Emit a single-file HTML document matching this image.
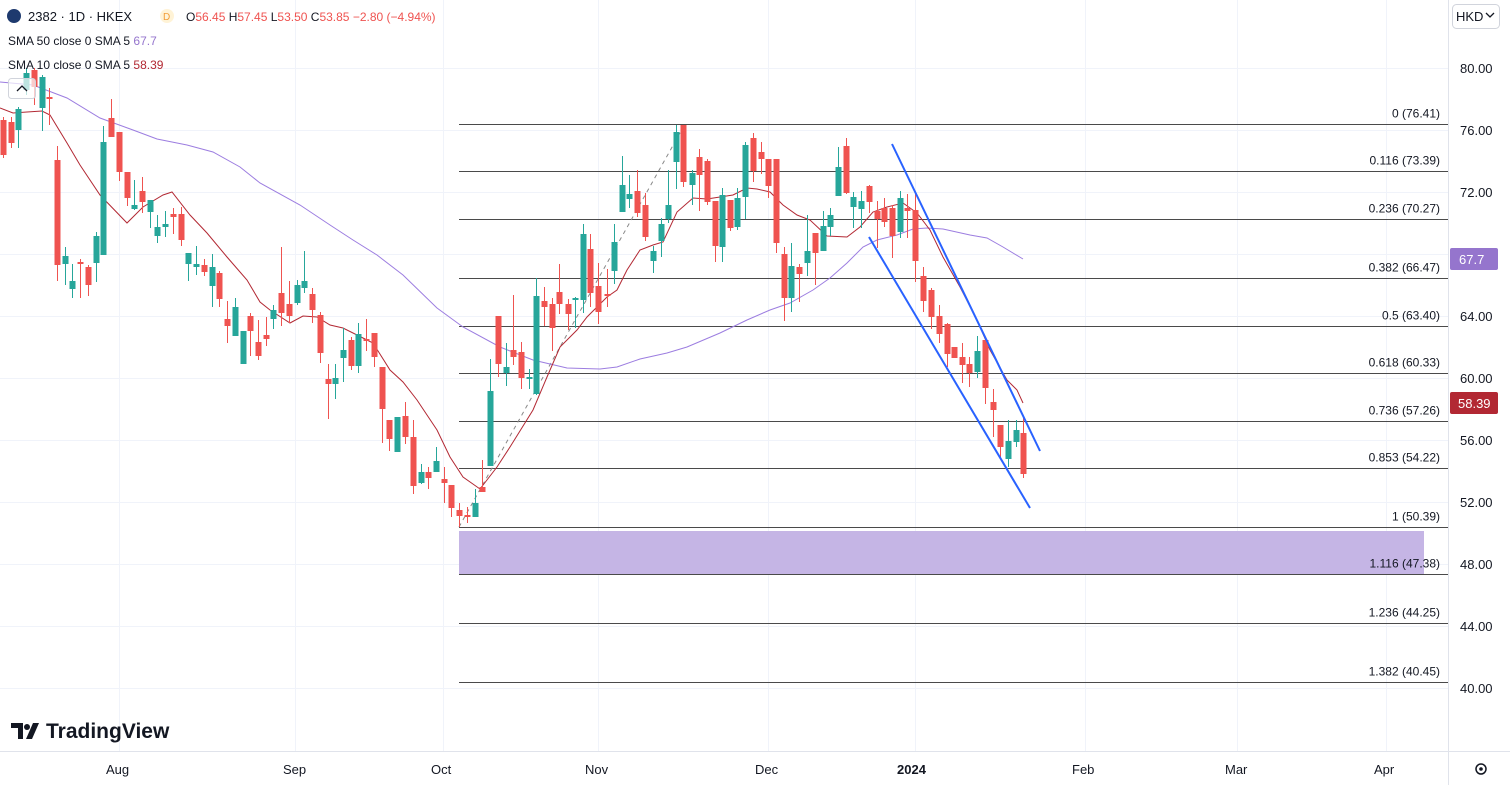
<!DOCTYPE html>
<html><head><meta charset="utf-8">
<style>
body{margin:0;background:#fff;width:1510px;height:785px;overflow:hidden;font-family:"Liberation Sans",sans-serif;}
svg{position:absolute;left:0;top:0}
</style></head><body>
<svg id="s" width="1510" height="785" xmlns="http://www.w3.org/2000/svg" font-family="Liberation Sans, sans-serif">
<g id="grid" stroke="#f0f3fa" stroke-width="1"></g>
<rect x="459" y="531" width="965" height="43" fill="#c5b5e5" />
<g id="fib" stroke="#4a4a4a" stroke-width="1"></g>
<line x1="459" y1="527" x2="685" y2="124" stroke="#888" stroke-width="1" stroke-dasharray="4,4"/>
<polyline id="sma50" fill="none" stroke="#9c7de0" stroke-width="1"/>
<polyline id="sma10" fill="none" stroke="#b22833" stroke-width="1"/>
<g id="candles"></g>
<line x1="892" y1="144" x2="1040" y2="451" stroke="#2962ff" stroke-width="2"/>
<line x1="869" y1="237" x2="1030" y2="508" stroke="#2962ff" stroke-width="2"/>
<g id="fibt" font-size="12" fill="#131722" text-anchor="end"></g>
<line x1="1448.5" y1="0" x2="1448.5" y2="785" stroke="#e0e3eb"/>
<line x1="0" y1="751.5" x2="1510" y2="751.5" stroke="#e0e3eb"/>
<g id="yax" font-size="13" fill="#131722"></g>
<rect x="1450" y="248" width="48" height="22" rx="2" fill="#9575cd"/>
<text x="1459" y="264" font-size="13" fill="#fff">67.7</text>
<rect x="1450" y="392" width="48" height="22" rx="2" fill="#b22833"/>
<text x="1458" y="408" font-size="13" fill="#fff">58.39</text>
<rect x="1452.5" y="4.5" width="47" height="24" rx="4" fill="#fff" stroke="#d1d4dc"/>
<text x="1456" y="21" font-size="13" fill="#131722">HKD</text>
<path d="M1486 13 l4 4 l4 -4" fill="none" stroke="#131722" stroke-width="1.3"/>
<g font-size="13" fill="#131722">
<text x="106" y="774">Aug</text><text x="283" y="774">Sep</text><text x="431" y="774">Oct</text>
<text x="585" y="774">Nov</text><text x="755" y="774">Dec</text><text x="897" y="774" font-weight="bold">2024</text>
<text x="1072" y="774">Feb</text><text x="1225" y="774">Mar</text><text x="1374" y="774">Apr</text>
</g>
<circle cx="1481" cy="769" r="5" fill="none" stroke="#131722" stroke-width="1.5"/><circle cx="1481" cy="769" r="1.8" fill="#131722"/>
<circle cx="14" cy="16" r="7" fill="#1e3a6e"/>
<text x="28" y="21" font-size="13" fill="#131722">2382 · 1D · HKEX</text>
<circle cx="167" cy="16" r="7" fill="#fff3d6"/><text x="163" y="20" font-size="10" fill="#f29d38">D</text>
<text x="186" y="21" font-size="12" fill="#131722">O<tspan fill="#ef5350">56.45</tspan> H<tspan fill="#ef5350">57.45</tspan> L<tspan fill="#ef5350">53.50</tspan> C<tspan fill="#ef5350">53.85 −2.80 (−4.94%)</tspan></text>
<text x="8" y="45" font-size="12" fill="#131722">SMA 50 close 0 SMA 5 <tspan fill="#9575cd">67.7</tspan></text>
<text x="8" y="69" font-size="12" fill="#131722">SMA 10 close 0 SMA 5 <tspan fill="#b22833">58.39</tspan></text>
<rect x="8.5" y="78.5" width="27" height="20" rx="3" fill="rgba(255,255,255,0.7)" stroke="#d1d4dc"/>
<path d="M17 91 l5 -5 l5 5" fill="none" stroke="#131722" stroke-width="1.3"/>
<path d="M11 723 h12 v16 h-5 v-11 h-7z M26 739 l7 -16 h6 l-7 16z" fill="#131722"/>
<circle cx="27" cy="727" r="3" fill="#131722"/>
<text x="46" y="738" font-size="21" font-weight="bold" fill="#131722">TradingView</text>
</svg>
<script>
const NS="http://www.w3.org/2000/svg";
function el(t,a,p){const e=document.createElementNS(NS,t);for(const k in a)e.setAttribute(k,a[k]);if(p)p.appendChild(e);return e;}
const grid=document.getElementById('grid');
[68,130,192,254,316,378,440,502,564,626,688].forEach(y=>el('line',{x1:0,x2:1448,y1:y+.5,y2:y+.5},grid));
[119,295,443,598,768,915,1085,1237,1386].forEach(x=>el('line',{x1:x+.5,x2:x+.5,y1:0,y2:751},grid));
const fib=[["0 (76.41)",124.5],["0.116 (73.39)",171.5],["0.236 (70.27)",219.5],["0.382 (66.47)",278.5],["0.5 (63.40)",326.5],["0.618 (60.33)",373.5],["0.736 (57.26)",421.5],["0.853 (54.22)",468.5],["1 (50.39)",527.5],["1.116 (47.38)",574.5],["1.236 (44.25)",623.5],["1.382 (40.45)",682.5]];
const fg=document.getElementById('fib'),ft=document.getElementById('fibt');
fib.forEach(f=>{el('line',{x1:459,x2:1448,y1:f[1],y2:f[1]},fg);const t=el('text',{x:1440,y:f[1]-7},ft);t.textContent=f[0];});
const ya=document.getElementById('yax');
[["80.00",68],["76.00",130],["72.00",192],["64.00",316],["60.00",378],["56.00",440],["52.00",502],["48.00",564],["44.00",626],["40.00",688]].forEach(v=>{const t=el('text',{x:1460,y:v[1]+5},ya);t.textContent=v[0];});
const C=[[3,120,155,117,158,'r'],[11,122,143,117,148,'r'],[18,109,130,107,148,'g'],[26,73,90,68,95,'g'],[34,70,87,68,105,'r'],[42,77,108,75,131,'g'],[49,97,99,88,125,'r'],[57,160,265,146,281,'r'],[65,256,264,247,285,'g'],[72,281,289,264,298,'g'],[80,262,264,259,298,'r'],[88,267,285,265,296,'r'],[96,236,263,232,282,'g'],[103,142,255,126,255,'g'],[111,118,137,99,137,'r'],[119,132,172,132,181,'r'],[127,172,198,172,206,'r'],[134,205,209,180,210,'g'],[142,191,202,177,213,'r'],[150,200,212,200,228,'g'],[157,227,236,215,243,'g'],[165,224,227,211,237,'g'],[173,214,217,208,234,'r'],[181,214,240,207,246,'r'],[188,253,264,253,281,'g'],[196,264,267,246,275,'g'],[204,265,272,259,276,'r'],[212,267,286,254,307,'g'],[219,273,299,271,307,'r'],[227,319,326,301,343,'r'],[235,307,336,298,336,'g'],[243,331,364,331,364,'g'],[250,316,331,313,356,'r'],[258,342,356,320,360,'r'],[266,335,339,317,346,'r'],[273,310,319,305,329,'g'],[281,293,313,247,326,'r'],[289,304,316,281,323,'r'],[297,285,303,280,305,'g'],[304,281,288,251,293,'g'],[312,294,310,288,323,'r'],[320,315,353,312,363,'r'],[328,379,384,364,419,'r'],[335,378,384,364,399,'g'],[343,350,358,328,382,'g'],[351,340,366,337,370,'r'],[358,334,366,323,373,'g'],[366,339,341,319,351,'r'],[374,333,357,333,367,'r'],[382,367,409,367,443,'r'],[389,420,439,420,451,'r'],[397,417,452,417,452,'g'],[405,416,437,402,444,'r'],[413,437,486,420,494,'r'],[421,472,483,464,484,'g'],[428,472,478,467,489,'r'],[436,461,472,447,472,'g'],[444,479,483,467,503,'r'],[451,485,508,485,517,'r'],[459,510,516,503,527,'r'],[467,515,517,507,523,'r'],[475,503,517,489,517,'g'],[482,487,492,460,492,'r'],[490,391,466,359,466,'g'],[498,316,364,316,377,'r'],[506,367,373,343,386,'g'],[513,350,357,295,365,'r'],[521,352,378,342,389,'r'],[529,377,379,369,389,'g'],[536,296,394,278,395,'g'],[544,301,307,287,326,'r'],[552,304,328,298,351,'r'],[559,292,304,264,314,'r'],[568,304,314,299,330,'r'],[575,298,300,297,328,'g'],[583,234,300,224,313,'g'],[590,249,293,234,307,'r'],[598,286,312,263,324,'r'],[607,294,296,269,307,'r'],[614,242,271,224,284,'g'],[622,185,212,156,212,'g'],[629,194,199,175,208,'g'],[637,191,213,170,217,'r'],[645,205,237,193,241,'r'],[653,251,261,246,273,'g'],[661,224,241,218,257,'g'],[668,205,219,170,223,'g'],[676,132,162,125,189,'g'],[683,125,182,125,187,'r'],[692,173,185,170,205,'g'],[699,157,175,149,211,'r'],[707,161,202,159,205,'r'],[715,201,246,201,262,'r'],[722,195,247,188,262,'g'],[730,200,228,200,231,'r'],[737,198,227,188,230,'g'],[745,145,197,142,219,'g'],[753,138,171,133,182,'r'],[761,152,159,142,174,'r'],[768,159,186,159,198,'r'],[776,159,243,159,253,'r'],[784,254,298,247,321,'r'],[791,266,298,243,312,'g'],[799,267,274,264,302,'r'],[807,251,263,215,276,'g'],[815,233,253,233,285,'r'],[823,226,251,211,251,'g'],[830,215,227,208,236,'g'],[838,167,196,147,196,'g'],[846,146,193,138,194,'r'],[853,197,207,192,228,'g'],[861,201,209,191,228,'g'],[869,186,202,185,213,'r'],[877,211,219,201,248,'r'],[884,208,222,198,227,'r'],[892,208,236,205,258,'r'],[900,198,232,191,238,'g'],[907,208,211,194,238,'r'],[915,210,261,193,282,'r'],[923,276,301,267,312,'r'],[931,290,317,288,329,'r'],[939,316,334,305,343,'r'],[947,324,354,323,367,'r'],[954,347,358,347,358,'r'],[962,357,365,343,383,'r'],[969,364,373,357,387,'r'],[977,351,372,336,378,'g'],[985,340,388,340,404,'r'],[993,402,410,389,437,'r'],[1000,425,447,425,458,'r'],[1008,441,459,420,467,'g'],[1016,430,442,420,447,'g'],[1023,433,474,418,478,'r']];
const cg=document.getElementById('candles');
C.forEach(c=>{const col=c[5]=='g'?'#26a69a':'#ef5350';
el('line',{x1:c[0]+.5,x2:c[0]+.5,y1:c[3],y2:c[4],stroke:col,'stroke-width':1},cg);
el('rect',{x:c[0]-2.5,y:c[1],width:6,height:Math.max(1.5,c[2]-c[1]),fill:col},cg);});
document.getElementById('sma10').setAttribute('points',"0,108 13,113 27,112 42,111 50,115 67,143 80,165 100,195 127,223 143,207 163,195 172,192 190,215 207,233 227,257 247,280 260,302 270,310 290,323 303,316 317,317 330,325 343,328 363,338 373,343 390,370 403,382 417,400 437,430 450,457 463,477 480,489 497,467 510,447 533,410 547,377 560,347 577,330 587,317 607,297 617,290 627,270 640,250 653,245 663,242 677,212 693,198 707,199 720,197 733,195 747,188 757,189 770,192 783,205 797,215 810,220 827,236 847,237 860,227 873,212 887,207 903,203 917,213 930,230 943,257 960,287 977,320 990,350 1007,380 1017,390 1023,403");
document.getElementById('sma50').setAttribute('points',"0,82 33,85 67,98 100,118 133,130 157,139 187,145 213,152 240,167 260,183 300,205 330,225 353,240 377,255 403,275 437,308 463,327 500,347 533,360 567,368 600,369 617,367 640,359 667,353 687,347 720,333 747,320 770,310 790,303 813,290 830,278 847,263 863,247 877,240 897,235 913,229 927,228 943,229 970,235 987,238 1003,247 1023,259");
</script>
</body></html>
